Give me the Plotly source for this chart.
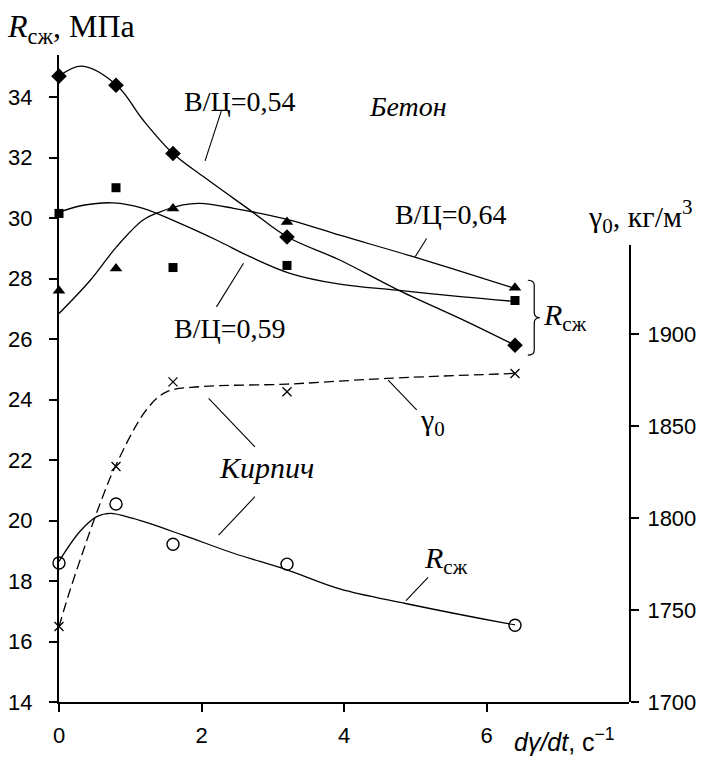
import plotly.graph_objects as go

# ---- measured points ----
x_pts = [0, 0.8, 1.6, 3.2, 6.4]
r054 = [34.70, 34.40, 32.14, 29.38, 25.80]
r059 = [30.16, 31.01, 28.37, 28.44, 27.28]
r064 = [27.60, 28.34, 30.32, 29.88, 27.70]
brick_r = [18.60, 20.55, 19.22, 18.56, 16.54]
gamma0 = [1741, 1828, 1874, 1868.6, 1878.6]

# ---- trend curves ----
c054_x = [0, 0.32, 0.81, 1.18, 1.60, 2.03, 2.68, 3.20, 3.94, 4.74, 5.67, 6.40]
c054_y = [34.70, 35.03, 34.40, 33.25, 32.14, 31.37, 30.27, 29.39, 28.62, 27.65, 26.64, 25.80]
c059_x = [0, 0.34, 0.76, 1.18, 1.65, 2.21, 2.68, 3.24, 3.94, 4.74, 5.67, 6.40]
c059_y = [30.20, 30.43, 30.51, 30.33, 29.88, 29.28, 28.73, 28.18, 27.82, 27.62, 27.40, 27.25]
c064_x = [0, 0.44, 0.81, 1.18, 1.42, 1.74, 1.98, 2.45, 3.24, 3.94, 4.97, 6.33, 6.40]
c064_y = [26.85, 27.95, 29.06, 29.94, 30.21, 30.44, 30.49, 30.33, 29.94, 29.44, 28.73, 27.73, 27.68]
cbr_x = [0, 0.29, 0.53, 0.72, 1.04, 1.74, 2.45, 3.20, 3.94, 4.88, 6.28, 6.40]
cbr_y = [18.65, 19.63, 20.13, 20.24, 20.07, 19.52, 18.92, 18.37, 17.74, 17.25, 16.60, 16.55]
cg_x = [0, 0.14, 0.33, 0.53, 0.79, 1.23, 1.51, 1.98, 3.20, 4.60, 6.40]
cg_y = [1741, 1759, 1781, 1803, 1828, 1859, 1868.6, 1871.4, 1872.8, 1875.9, 1878.6]

left_ticks = [14, 16, 18, 20, 22, 24, 26, 28, 30, 32, 34]
right_ticks = [1700, 1750, 1800, 1850, 1900]
x_ticks = [0, 2, 4, 6]

SERIF = "Liberation Serif"
SANS = "Liberation Sans"
BLK = "#000000"

fig = go.Figure()

def curve(xs, ys, yaxis="y", dash="solid"):
    fig.add_trace(go.Scatter(x=xs, y=ys, mode="lines", yaxis=yaxis,
                             line=dict(color=BLK, width=1.3, shape="spline", smoothing=1.0, dash=dash),
                             hoverinfo="skip", showlegend=False))

curve(c054_x, c054_y)
curve(c059_x, c059_y)
curve(c064_x, c064_y)
curve(cbr_x, cbr_y)
curve(cg_x, cg_y, yaxis="y2", dash="10px,5px")

def pts(ys, symbol, size, yaxis="y", fill=BLK, lw=0):
    fig.add_trace(go.Scatter(x=x_pts, y=ys, mode="markers", yaxis=yaxis, cliponaxis=False,
                             marker=dict(symbol=symbol, size=size, color=fill,
                                         line=dict(color=BLK, width=lw)),
                             showlegend=False))

pts(r054, "diamond", 12)
pts(r059, "square", 9)
pts(r064, "triangle-up", 11)
pts(brick_r, "circle-open", 12, lw=1.4, fill=BLK)
pts(gamma0, "x-thin-open", 9, yaxis="y2", lw=1.3, fill=BLK)

# leader lines
leaders = [
    (2.28, 33.56, 2.05, 31.90),
    (2.59, 28.51, 2.21, 27.07),
    (5.16, 29.33, 5.00, 28.73),
    (4.62, 24.65, 5.02, 23.66),
    (2.10, 24.04, 2.75, 22.44),
    (2.75, 20.79, 2.24, 19.52),
    (5.18, 18.12, 4.87, 17.35),
]
for x0, y0, x1, y1 in leaders:
    fig.add_shape(type="line", x0=x0, y0=y0, x1=x1, y1=y1, xref="x", yref="y",
                  line=dict(color=BLK, width=1.1))

# brace
fig.add_shape(type="path", xref="x", yref="y",
              path="M 6.58,27.95 Q 6.67,27.95 6.67,27.78 L 6.67,26.88 Q 6.67,26.71 6.75,26.71 "
                   "Q 6.67,26.71 6.67,26.54 L 6.67,25.64 Q 6.67,25.47 6.58,25.47",
              line=dict(color=BLK, width=1.2))

FS = 28
def note(text, x, y, xanchor="center", xref="x", yref="y", size=FS, family=SERIF):
    fig.add_annotation(text=text, x=x, y=y, xref=xref, yref=yref, xanchor=xanchor,
                       yanchor="middle", showarrow=False,
                       font=dict(family=family, size=size, color=BLK))

note("В/Ц=0,54", 2.53, 33.87)
note("<i>Бетон</i>", 4.32, 33.71, xanchor="left")
note("В/Ц=0,64", 5.49, 30.14)
note("В/Ц=0,59", 2.39, 26.37)
note("<i>R</i><sub>сж</sub>", 6.76, 26.75, xanchor="left", size=30)
note("γ<sub>0</sub>", 5.24, 23.26, size=30)
note("<i>Кирпич</i>", 2.91, 21.77, size=30)
note("<i>R</i><sub>сж</sub>", 5.43, 18.70, size=30)

# axis titles
note("<i>R</i><sub>сж</sub>, МПа", -0.094, 1.0417, xanchor="left", xref="paper", yref="paper", size=32)
note("γ<sub>0</sub>, кг/м<sup>3</sup>", 0.925, 0.751, xanchor="left", xref="paper", yref="paper", size=30)
note("<i>dγ/dt</i>, с<sup>−1</sup>", 0.795, -0.058, xanchor="left", xref="paper", yref="paper",
     size=25, family=SANS)

axis_common = dict(showgrid=False, zeroline=False, showline=True, linecolor=BLK, linewidth=2,
                   ticks="outside", ticklen=8, tickwidth=1.5, tickcolor=BLK, automargin=False,
                   tickfont=dict(family=SANS, size=22, color=BLK))

fig.update_layout(
    width=723, height=758,
    margin=dict(l=59, r=94, t=55, b=56),
    plot_bgcolor="rgba(0,0,0,0)", paper_bgcolor="white",
    showlegend=False,
    xaxis=dict(range=[0, 8], tickvals=x_ticks, ticktext=[str(v) for v in x_ticks],
               anchor="y", ticklabelstandoff=5, **axis_common),
    yaxis=dict(range=[14, 35.4], tickvals=left_ticks, ticktext=[str(v) for v in left_ticks],
               domain=[0, 1], anchor="x", ticklabelstandoff=12, **axis_common),
    yaxis2=dict(range=[1700, 1948.4], tickvals=right_ticks, ticktext=[str(v) for v in right_ticks],
                domain=[0, 0.7063], anchor="x", side="right", ticklabelstandoff=4, **axis_common),
)

fig.write_html("out.html", config={"displayModeBar": False},
               post_script="document.body.style.margin='0';document.body.style.overflow='hidden';")
